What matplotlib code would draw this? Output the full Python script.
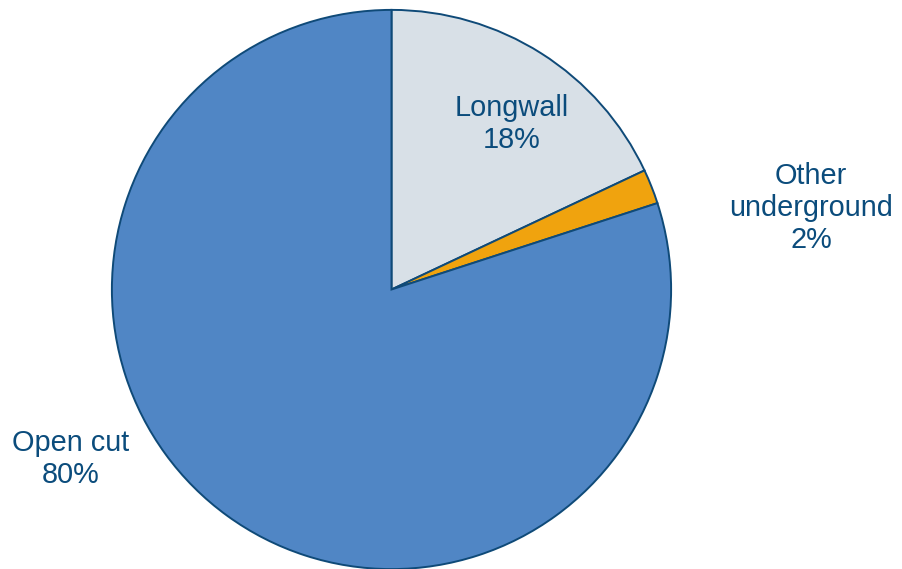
import matplotlib
matplotlib.use("Agg")
import matplotlib.pyplot as plt

# Coal production by mining method
categories = ["Longwall", "Other underground", "Open cut"]
shares = [18, 2, 80]
label_lines = ["Longwall\n18%", "Other\nunderground\n2%", "Open cut\n80%"]
colors = ["#D8E0E7", "#F0A30E", "#5086C5"]

W, H = 902, 569
fig = plt.figure(figsize=(W / 100, H / 100), dpi=100)

# Pie axes placed in pixel units: centre (391.5, 289.5), radius 281
cx, cy, r = 391.5, 289.5, 281
ax = fig.add_axes([(cx - r) / W, (H - cy - r) / H, 2 * r / W, 2 * r / H])
ax.pie(shares, colors=colors, startangle=90, counterclock=False, radius=1,
       wedgeprops=dict(edgecolor="#0F4A78", linewidth=1.4))
ax.set_xlim(-1.005, 1.005)
ax.set_ylim(-1.005, 1.005)
ax.set_aspect("equal")
ax.axis("off")

text_color = "#0B4C7C"
label_pos = [(512, 124), (811, 208), (71, 459)]
for txt, (px, py) in zip(label_lines, label_pos):
    fig.text(px / W, 1 - py / H, txt, ha="center", va="center",
             fontsize=20.8, family="Liberation Sans", color=text_color,
             linespacing=1.2)

fig.savefig("out.png", dpi=100)
